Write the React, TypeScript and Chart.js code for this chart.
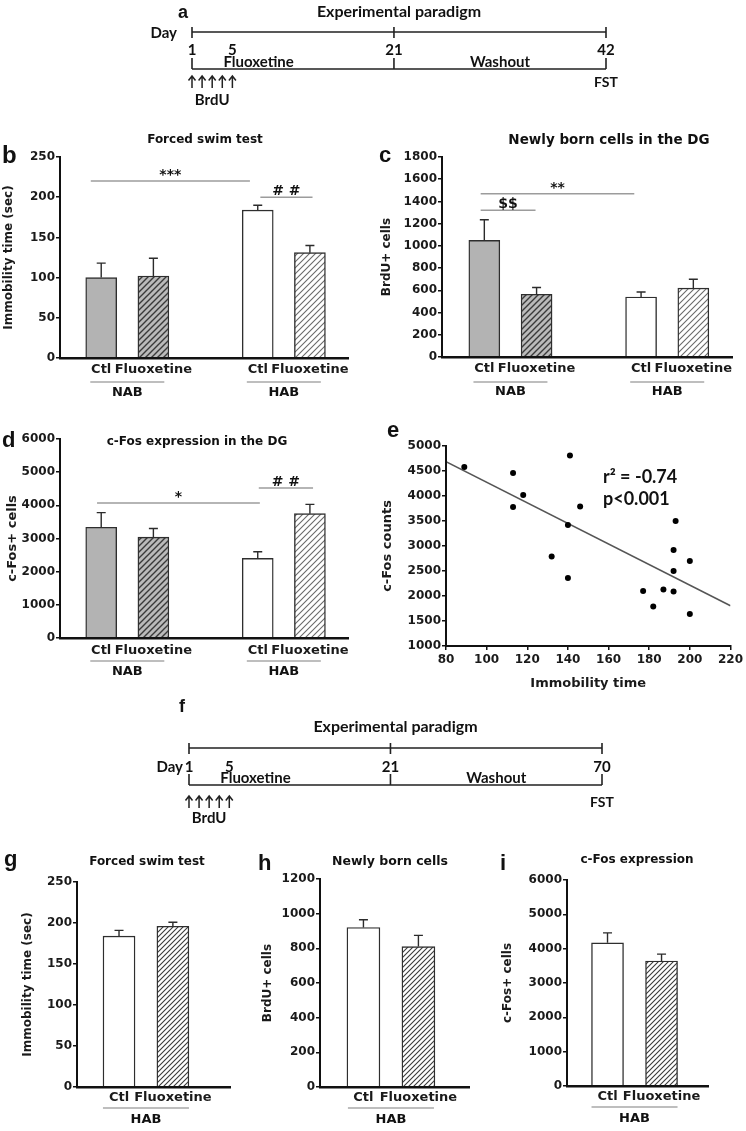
import React, { useEffect, useRef } from "react";
import { Chart, registerables } from "chart.js";

Chart.register(...registerables);
Chart.defaults.font.family = "'DejaVu Sans', sans-serif";
Chart.defaults.font.weight = "bold";
Chart.defaults.font.size = 12;
Chart.defaults.color = "#1a1a1a";

// ---------------- data ----------------
const groups = ["NAB", "HAB"];
const lateGroups = ["HAB"];
const treatments = ["Ctl", "Fluoxetine"];

// b: forced swim test (NAB Ctl, NAB Fluoxetine, HAB Ctl, HAB Fluoxetine)
const fstMeans = [100, 102, 184, 131];
const fstErrors = [18, 22, 6, 9];
// c: newly born cells in the DG
const brduMeans = [1050, 565, 540, 620];
const brduErrors = [185, 60, 45, 80];
// d: c-Fos expression in the DG
const cfosMeans = [3340, 3040, 2400, 3750];
const cfosErrors = [440, 260, 200, 280];

// e: correlation
const scatterImmobility = [89, 113, 118, 113, 141, 146, 140, 132, 140, 193, 192, 200, 192, 177, 187, 192, 182, 200];
const scatterCfos = [4580, 4460, 4020, 3780, 4810, 3790, 3420, 2790, 2360, 3500, 2920, 2700, 2500, 2100, 2130, 2090, 1790, 1640];
const scatterNote = ["r\u00B2 = -0.74", "p<0.001"];

// g, h, i: 70-day paradigm (HAB Ctl, HAB Fluoxetine)
const lateFstMeans = [184, 196];
const lateFstErrors = [7, 5];
const lateBrduMeans = [920, 810];
const lateBrduErrors = [45, 65];
const lateCfosMeans = [4170, 3640];
const lateCfosErrors = [290, 200];

// significance bars (x in bar-slot units)
const fstSig = [
  { from: -0.2, to: 2.85, value: 220, label: "***" },
  { from: 3.05, to: 4.05, value: 200, label: "# #" },
];
const brduSig = [
  { from: -0.07, to: 2.87, value: 1470, label: "**" },
  { from: -0.07, to: 0.98, value: 1320, label: "$$" },
];
const cfosSig = [
  { from: -0.08, to: 3.04, value: 4070, label: "*" },
  { from: 3.02, to: 4.06, value: 4520, label: "# #" },
];

// timelines
const paradigmTitle = "Experimental paradigm";
const paradigmASlots = [1, 5, 21, 42];
const paradigmALabels = ["1", "5", "21", "42"];
const paradigmFSlots = [1, 5, 21, 42]; // schematic spacing as drawn
const paradigmFLabels = ["1", "5", "21", "70"];
const brduInjectionDays = [1, 2, 3, 4, 5];
const phaseLabels = ["Fluoxetine", "Washout"];

// ---------------- helpers ----------------
type Box = [number, number, number, number];
const plain = (v: any) => String(v);

function hatch(ctx: CanvasRenderingContext2D, bg: string, line: string, size: number, width: number) {
  const c = document.createElement("canvas");
  c.width = size;
  c.height = size;
  const x = c.getContext("2d")!;
  x.fillStyle = bg;
  x.fillRect(0, 0, size, size);
  x.strokeStyle = line;
  x.lineWidth = width;
  x.beginPath();
  x.moveTo(0, size);
  x.lineTo(size, 0);
  x.moveTo(-size / 2, size / 2);
  x.lineTo(size / 2, -size / 2);
  x.moveTo(size / 2, size * 1.5);
  x.lineTo(size * 1.5, size / 2);
  x.stroke();
  return ctx.createPattern(c, "repeat") as CanvasPattern;
}

function paint(ctx: CanvasRenderingContext2D, key: string, size: number): any {
  switch (key) {
    case "grey":
      return "#b3b3b3";
    case "greyHatch":
      return hatch(ctx, "#bababa", "#3a3a3a", size, 1.4);
    case "whiteHatch":
      return hatch(ctx, "#ffffff", "#6a6a6a", size, 1.1);
    case "whiteHatchDark":
      return hatch(ctx, "#ffffff", "#3a3a3a", size, 1.1);
    default:
      return "#ffffff";
  }
}

interface Sig { from: number; to: number; value: number; label: string }
interface TextSpec { text: string; x: number; y: number; size: number }
interface BarSpec {
  box: Box;
  area: Box;
  xRange: [number, number];
  yMax: number;
  yStep: number;
  means: number[];
  errors: number[];
  groupNames: string[];
  fills: string[];
  letter: TextSpec;
  title: TextSpec;
  yTitle: { text: string; size: number; pad: number };
  sig: Sig[];
  barWidth: number;
  hatchSize: number;
  xLabelPad: number;
  groupLine: number;
  groupText: number;
  groupHalf: number;
}

function buildBar(canvas: HTMLCanvasElement, s: BarSpec) {
  const ctx = canvas.getContext("2d")!;
  const [L, T, W, H] = s.box;
  const [aL, aT, aR, aB] = s.area;
  const per = treatments.length;
  const slots = s.means.map((_, i) => Math.floor(i / per) * (per + 1) + (i % per));
  const labelAt = (v: number) => {
    const i = slots.indexOf(Math.round(v));
    return i >= 0 ? treatments[i % per] : "";
  };
  const fills = s.fills.map((k) => paint(ctx, k, s.hatchSize));

  const decor = {
    id: "decor",
    afterDatasetsDraw(chart: any) {
      const c = chart.ctx;
      const y = chart.scales.y;
      const meta = chart.getDatasetMeta(0);
      c.save();
      c.strokeStyle = "#2b2b2b";
      c.lineWidth = 1.4;
      meta.data.forEach((el: any, i: number) => {
        const top = y.getPixelForValue(s.means[i] + s.errors[i]);
        c.beginPath();
        c.moveTo(el.x, el.y);
        c.lineTo(el.x, top);
        c.moveTo(el.x - 4.5, top);
        c.lineTo(el.x + 4.5, top);
        c.stroke();
      });
      c.restore();
    },
    afterDraw(chart: any) {
      const c = chart.ctx;
      const x = chart.scales.x;
      const y = chart.scales.y;
      c.save();
      c.fillStyle = "#111";
      c.font = `bold ${s.letter.size}px 'Liberation Sans'`;
      c.textAlign = "left";
      c.textBaseline = "alphabetic";
      c.fillText(s.letter.text, s.letter.x - L, s.letter.y - T);
      c.font = `bold ${s.title.size}px 'DejaVu Sans'`;
      c.textAlign = "center";
      c.textBaseline = "middle";
      c.fillText(s.title.text, s.title.x - L, s.title.y - T);
      s.sig.forEach((g) => {
        const py = y.getPixelForValue(g.value);
        const x1 = x.getPixelForValue(g.from);
        const x2 = x.getPixelForValue(g.to);
        c.strokeStyle = "#9c9c9c";
        c.lineWidth = 1.5;
        c.beginPath();
        c.moveTo(x1, py);
        c.lineTo(x2, py);
        c.stroke();
        c.font = "bold 14px 'DejaVu Sans'";
        c.textBaseline = "alphabetic";
        c.textAlign = "center";
        c.fillStyle = "#111";
        c.fillText(g.label, (x1 + x2) / 2, py - 2);
      });
      const meta = chart.getDatasetMeta(0);
      const bottom = chart.chartArea.bottom;
      s.groupNames.forEach((name, g) => {
        const els = meta.data.slice(g * per, (g + 1) * per);
        const cx = els.reduce((a: number, e: any) => a + e.x, 0) / els.length;
        c.strokeStyle = "#a8a8a8";
        c.lineWidth = 1.5;
        c.beginPath();
        c.moveTo(cx - s.groupHalf, bottom + s.groupLine);
        c.lineTo(cx + s.groupHalf, bottom + s.groupLine);
        c.stroke();
        c.font = "bold 13px 'DejaVu Sans'";
        c.textBaseline = "middle";
        c.textAlign = "center";
        c.fillStyle = "#111";
        c.fillText(name, cx, bottom + s.groupText);
      });
      c.restore();
    },
  };

  return new Chart(ctx, {
    type: "bar",
    data: {
      datasets: [
        {
          data: s.means.map((v, i) => ({ x: slots[i], y: v })) as any,
          backgroundColor: fills,
          borderColor: "#2e2e2e",
          borderWidth: 1.4,
          barThickness: s.barWidth,
          borderSkipped: "bottom",
        },
      ],
    },
    options: {
      animation: false,
      responsive: false,
      layout: { padding: { left: 0, top: aT - T, right: L + W - aR, bottom: 0 } },
      plugins: { legend: { display: false }, tooltip: { enabled: false } },
      scales: {
        x: {
          type: "linear",
          min: s.xRange[0],
          max: s.xRange[1],
          offset: false,
          grid: { display: false, drawTicks: false },
          border: { display: true, color: "#111", width: 2.5, z: 1 },
          ticks: {
            autoSkip: false,
            maxRotation: 0,
            padding: s.xLabelPad,
            font: { size: 13, weight: "bold" },
            callback: (v: any) => labelAt(Number(v)),
          },
          afterBuildTicks: (axis: any) => {
            axis.ticks = slots.map((v) => ({ value: v }));
          },
          afterFit: (axis: any) => {
            axis.height = T + H - aB;
          },
        },
        y: {
          min: 0,
          max: s.yMax,
          ticks: { stepSize: s.yStep, padding: 1, font: { size: 12, weight: "bold" }, callback: plain },
          grid: { display: true, drawOnChartArea: false, drawTicks: true, tickLength: 4, color: "#111", lineWidth: 1.5 },
          border: { display: true, color: "#111", width: 2, z: 1 },
          title: {
            display: true,
            text: s.yTitle.text,
            font: { size: s.yTitle.size, weight: "bold" },
            padding: { top: s.yTitle.pad, bottom: 0 },
          },
          afterFit: (axis: any) => {
            axis.width = aL - L;
          },
        },
      },
    } as any,
    plugins: [decor as any],
  });
}

function regression(xs: number[], ys: number[]) {
  const n = xs.length;
  const mx = xs.reduce((a, b) => a + b, 0) / n;
  const my = ys.reduce((a, b) => a + b, 0) / n;
  let sxy = 0;
  let sxx = 0;
  for (let i = 0; i < n; i++) {
    sxy += (xs[i] - mx) * (ys[i] - my);
    sxx += (xs[i] - mx) * (xs[i] - mx);
  }
  const slope = sxy / sxx;
  return { slope, intercept: my - slope * mx };
}

function buildScatter(canvas: HTMLCanvasElement) {
  const ctx = canvas.getContext("2d")!;
  const box: Box = [372, 415, 374, 285];
  const area: Box = [446, 446, 732, 646];
  const [L, T, W, H] = box;
  const [aL, aT, aR, aB] = area;
  const xMin = 80;
  const xMax = 220;
  const fit = regression(scatterImmobility, scatterCfos);
  const linePts = [xMin, xMax].map((x) => ({ x, y: fit.intercept + fit.slope * x }));

  const decor = {
    id: "decorE",
    afterDraw(chart: any) {
      const c = chart.ctx;
      c.save();
      c.fillStyle = "#111";
      c.font = "bold 22px 'Liberation Sans'";
      c.textAlign = "left";
      c.textBaseline = "alphabetic";
      c.fillText("e", 387 - L, 437 - T);
      c.font = "bold 18px Lato";
      c.textBaseline = "middle";
      c.fillText(scatterNote[0], 603 - L, 477 - T);
      c.fillText(scatterNote[1], 603 - L, 499 - T);
      c.restore();
    },
  };

  return new Chart(ctx, {
    type: "scatter",
    data: {
      datasets: [
        {
          data: scatterImmobility.map((x, i) => ({ x, y: scatterCfos[i] })),
          backgroundColor: "#000",
          borderWidth: 0,
          pointRadius: 3,
          order: 0,
        },
        {
          type: "line",
          data: linePts,
          borderColor: "#555",
          borderWidth: 1.5,
          pointRadius: 0,
          showLine: true,
          order: 1,
        } as any,
      ],
    },
    options: {
      animation: false,
      responsive: false,
      layout: { padding: { left: 0, top: aT - T, right: L + W - aR, bottom: 0 } },
      plugins: { legend: { display: false }, tooltip: { enabled: false } },
      scales: {
        x: {
          type: "linear",
          min: xMin,
          max: xMax,
          ticks: { stepSize: 20, padding: 3, font: { size: 12, weight: "bold" }, callback: plain },
          grid: { display: true, drawOnChartArea: false, tickLength: 4, color: "#111", lineWidth: 1.5 },
          border: { display: true, color: "#111", width: 2, z: 1 },
          title: { display: true, text: "Immobility time", font: { size: 13, weight: "bold" }, padding: { top: 0, bottom: 9 } },
          afterFit: (axis: any) => {
            axis.height = T + H - aB;
          },
        },
        y: {
          min: 1000,
          max: 5000,
          ticks: { stepSize: 500, padding: 1, font: { size: 12, weight: "bold" }, callback: plain },
          grid: { display: true, drawOnChartArea: false, tickLength: 4, color: "#111", lineWidth: 1.5 },
          border: { display: true, color: "#111", width: 2, z: 1 },
          title: { display: true, text: "c-Fos counts", font: { size: 13, weight: "bold" }, padding: { top: 8.2, bottom: 0 } },
          afterFit: (axis: any) => {
            axis.width = aL - L;
          },
        },
      },
    } as any,
    plugins: [decor as any],
  });
}

interface TimelineSpec {
  box: Box;
  areaX: [number, number];
  slots: number[];
  labels: string[];
  letter: TextSpec;
  rows: { title: number; top: number; num: number; phase: number; bot: number; arrowTop: number; arrowBot: number; brdu: number; fst: number };
  day: { x: number; y: number };
}

function buildTimeline(canvas: HTMLCanvasElement, s: TimelineSpec) {
  const ctx = canvas.getContext("2d")!;
  const [L, T, W] = s.box;
  const first = s.slots[0];
  const last = s.slots[s.slots.length - 1];
  const majors = [s.slots[0], s.slots[2], last];
  const decor = {
    id: "timeline",
    afterDraw(chart: any) {
      const c = chart.ctx;
      const x = (d: number) => chart.scales.x.getPixelForValue(d);
      const r = (v: number) => v - T;
      c.save();
      c.fillStyle = "#111";
      c.strokeStyle = "#222";
      c.lineWidth = 1.6;
      c.font = `bold ${s.letter.size}px 'Liberation Sans'`;
      c.textAlign = "left";
      c.textBaseline = "alphabetic";
      c.fillText(s.letter.text, s.letter.x - L, s.letter.y - T);
      c.font = "bold 16px Lato";
      c.textAlign = "center";
      c.textBaseline = "middle";
      c.fillText(paradigmTitle, (x(first) + x(last)) / 2, r(s.rows.title));
      c.beginPath();
      c.moveTo(x(first), r(s.rows.top));
      c.lineTo(x(last), r(s.rows.top));
      c.moveTo(x(first), r(s.rows.bot));
      c.lineTo(x(last), r(s.rows.bot));
      majors.forEach((d) => {
        c.moveTo(x(d), r(s.rows.top - 5));
        c.lineTo(x(d), r(s.rows.top + 6));
        c.moveTo(x(d), r(s.rows.bot - 11));
        c.lineTo(x(d), r(s.rows.bot));
      });
      c.stroke();
      c.font = "bold 15px Lato";
      s.slots.forEach((d, i) => c.fillText(s.labels[i], x(d), r(s.rows.num)));
      c.textAlign = "right";
      c.fillText("Day", s.day.x - L, r(s.day.y));
      c.textAlign = "left";
      c.fillText(phaseLabels[0], x(s.slots[1]) - 9, r(s.rows.phase));
      c.textAlign = "center";
      c.fillText(phaseLabels[1], (x(s.slots[2]) + x(last)) / 2, r(s.rows.phase));
      c.lineWidth = 1.5;
      brduInjectionDays.forEach((d) => {
        const px = x(d);
        c.beginPath();
        c.moveTo(px, r(s.rows.arrowBot));
        c.lineTo(px, r(s.rows.arrowTop));
        c.moveTo(px - 3.5, r(s.rows.arrowTop + 4.5));
        c.lineTo(px, r(s.rows.arrowTop));
        c.lineTo(px + 3.5, r(s.rows.arrowTop + 4.5));
        c.stroke();
      });
      const mid = brduInjectionDays.reduce((a, b) => a + b, 0) / brduInjectionDays.length;
      c.font = "bold 15px Lato";
      c.fillText("BrdU", x(mid), r(s.rows.brdu));
      c.font = "bold 14px Lato";
      c.fillText("FST", x(last), r(s.rows.fst));
      c.restore();
    },
  };
  return new Chart(ctx, {
    type: "scatter",
    data: { datasets: [] },
    options: {
      animation: false,
      responsive: false,
      layout: { padding: { left: s.areaX[0] - L, right: L + W - s.areaX[1], top: 0, bottom: 0 } },
      plugins: { legend: { display: false }, tooltip: { enabled: false } },
      scales: {
        x: { type: "linear", min: first, max: last, display: false },
        y: { min: 0, max: 1, display: false },
      },
    } as any,
    plugins: [decor as any],
  });
}

// ---------------- panel specs ----------------
const fourFills = ["grey", "greyHatch", "white", "whiteHatch"];
const lateFills = ["white", "whiteHatchDark"];

const panelB: BarSpec = {
  box: [0, 125, 368, 280], area: [60, 157, 348, 358], xRange: [-0.79, 4.73],
  yMax: 250, yStep: 50, means: fstMeans, errors: fstErrors, groupNames: groups, fills: fourFills,
  letter: { text: "b", x: 2, y: 163, size: 24 },
  title: { text: "Forced swim test", x: 205, y: 140, size: 12 },
  yTitle: { text: "Immobility time (sec)", size: 12, pad: 1.8 },
  sig: fstSig, barWidth: 31, hatchSize: 6, xLabelPad: 4, groupLine: 24, groupText: 35, groupHalf: 37,
};
const panelC: BarSpec = {
  box: [372, 125, 374, 280], area: [442, 157, 732, 357], xRange: [-0.81, 4.74],
  yMax: 1800, yStep: 200, means: brduMeans, errors: brduErrors, groupNames: groups, fills: fourFills,
  letter: { text: "c", x: 379, y: 162, size: 22 },
  title: { text: "Newly born cells in the DG", x: 609, y: 140, size: 13.5 },
  yTitle: { text: "BrdU+ cells", size: 12, pad: 7.8 },
  sig: brduSig, barWidth: 31, hatchSize: 6, xLabelPad: 4, groupLine: 25, groupText: 35, groupHalf: 37,
};
const panelD: BarSpec = {
  box: [0, 415, 368, 270], area: [60, 439, 348, 638], xRange: [-0.79, 4.73],
  yMax: 6000, yStep: 1000, means: cfosMeans, errors: cfosErrors, groupNames: groups, fills: fourFills,
  letter: { text: "d", x: 2, y: 447, size: 22 },
  title: { text: "c-Fos expression in the DG", x: 197, y: 442, size: 12 },
  yTitle: { text: "c-Fos+ cells", size: 13, pad: 5 },
  sig: cfosSig, barWidth: 31, hatchSize: 6, xLabelPad: 5, groupLine: 23, groupText: 34, groupHalf: 37,
};
const panelG: BarSpec = {
  box: [0, 845, 245, 286], area: [77, 882, 230, 1087], xRange: [-0.78, 2.06],
  yMax: 250, yStep: 50, means: lateFstMeans, errors: lateFstErrors, groupNames: lateGroups, fills: lateFills,
  letter: { text: "g", x: 4, y: 866, size: 22 },
  title: { text: "Forced swim test", x: 147, y: 862, size: 12 },
  yTitle: { text: "Immobility time (sec)", size: 12, pad: 20.8 },
  sig: [], barWidth: 32, hatchSize: 5, xLabelPad: 3, groupLine: 21, groupText: 33, groupHalf: 43,
};
const panelH: BarSpec = {
  box: [245, 845, 245, 286], area: [320, 879, 469, 1087], xRange: [-0.79, 1.92],
  yMax: 1200, yStep: 200, means: lateBrduMeans, errors: lateBrduErrors, groupNames: lateGroups, fills: lateFills,
  letter: { text: "h", x: 258, y: 870, size: 22 },
  title: { text: "Newly born cells", x: 390, y: 862, size: 12.5 },
  yTitle: { text: "BrdU+ cells", size: 12, pad: 15.8 },
  sig: [], barWidth: 33, hatchSize: 5, xLabelPad: 3, groupLine: 21, groupText: 33, groupHalf: 43,
};
const panelI: BarSpec = {
  box: [490, 845, 256, 286], area: [567, 880, 708, 1086], xRange: [-0.75, 1.86],
  yMax: 6000, yStep: 1000, means: lateCfosMeans, errors: lateCfosErrors, groupNames: lateGroups, fills: lateFills,
  letter: { text: "i", x: 500, y: 870, size: 22 },
  title: { text: "c-Fos expression", x: 637, y: 860, size: 12 },
  yTitle: { text: "c-Fos+ cells", size: 12, pad: 10.8 },
  sig: [], barWidth: 32, hatchSize: 5, xLabelPad: 3, groupLine: 21, groupText: 33, groupHalf: 43,
};

const timelineA: TimelineSpec = {
  box: [140, 0, 480, 110], areaX: [192, 606], slots: paradigmASlots, labels: paradigmALabels,
  letter: { text: "a", x: 178, y: 18, size: 18 },
  rows: { title: 12, top: 32, num: 50, phase: 62, bot: 69, arrowTop: 76, arrowBot: 88, brdu: 100, fst: 82 },
  day: { x: 177, y: 33 },
};
const timelineF: TimelineSpec = {
  box: [140, 690, 480, 140], areaX: [189, 602], slots: paradigmFSlots, labels: paradigmFLabels,
  letter: { text: "f", x: 179, y: 712, size: 18 },
  rows: { title: 727, top: 748, num: 767, phase: 778, bot: 785, arrowTop: 796, arrowBot: 808, brdu: 818, fst: 802 },
  day: { x: 183, y: 767 },
};

// ---------------- components ----------------
function ChartCanvas({ box, build }: { box: Box; build: (c: HTMLCanvasElement) => Chart }) {
  const ref = useRef<HTMLCanvasElement>(null);
  useEffect(() => {
    const chart = build(ref.current!);
    return () => chart.destroy();
  }, []);
  const [l, t, w, h] = box;
  return (
    <canvas
      ref={ref}
      width={w}
      height={h}
      style={{ position: "absolute", left: l, top: t, width: w, height: h }}
    />
  );
}

export default function App() {
  return (
    <div style={{ position: "absolute", left: 0, top: 0, width: 746, height: 1131, background: "#fff", overflow: "hidden" }}>
      <ChartCanvas box={timelineA.box} build={(c) => buildTimeline(c, timelineA)} />
      <ChartCanvas box={panelB.box} build={(c) => buildBar(c, panelB)} />
      <ChartCanvas box={panelC.box} build={(c) => buildBar(c, panelC)} />
      <ChartCanvas box={panelD.box} build={(c) => buildBar(c, panelD)} />
      <ChartCanvas box={[372, 415, 374, 285]} build={(c) => buildScatter(c)} />
      <ChartCanvas box={timelineF.box} build={(c) => buildTimeline(c, timelineF)} />
      <ChartCanvas box={panelG.box} build={(c) => buildBar(c, panelG)} />
      <ChartCanvas box={panelH.box} build={(c) => buildBar(c, panelH)} />
      <ChartCanvas box={panelI.box} build={(c) => buildBar(c, panelI)} />
    </div>
  );
}
